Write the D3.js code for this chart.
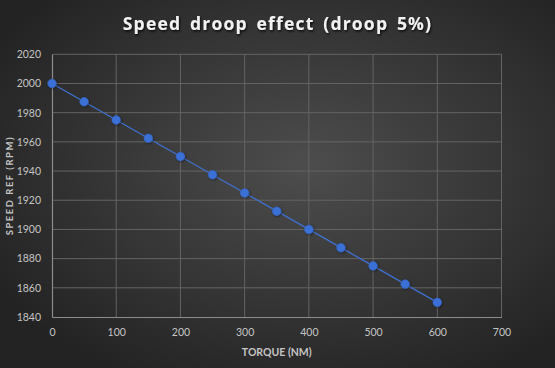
<!DOCTYPE html>
<html><head><meta charset="utf-8">
<script src="https://cdn.jsdelivr.net/npm/d3@7/dist/d3.min.js"></script>
<style>html,body{margin:0;padding:0;background:#2a2a2a;}svg{display:block;}</style>
</head><body>
<script>
const torque = [0,50,100,150,200,250,300,350,400,450,500,550,600];
const speed = [2000,1987.5,1975,1962.5,1950,1937.5,1925,1912.5,1900,1887.5,1875,1862.5,1850];
const xTicks = [0,100,200,300,400,500,600,700];
const yTicks = [1840,1860,1880,1900,1920,1940,1960,1980,2000,2020];
const title = "Speed droop effect (droop 5%)";
const xTitle = "TORQUE (NM)";
const yTitle = "SPEED REF (RPM)";

const W=555,H=368;
const m={l:52,r:501.5,t:54.3,b:317};
const svg=d3.select("body").append("svg").attr("width",W).attr("height",H);
const defs=svg.append("defs");
const rg=defs.append("radialGradient").attr("id","bg").attr("cx","0.55").attr("cy","0.45").attr("r","0.65");
rg.append("stop").attr("offset","0%").attr("stop-color","#4d4d4d");
rg.append("stop").attr("offset","100%").attr("stop-color","#232323");
const f=defs.append("filter").attr("id","sh").attr("x","-10%").attr("y","-30%").attr("width","120%").attr("height","160%");
f.append("feDropShadow").attr("dx",1).attr("dy",1.5).attr("stdDeviation",1.2).attr("flood-color","#000").attr("flood-opacity",0.8);
const f2=defs.append("filter").attr("id","msh").attr("x","-50%").attr("y","-50%").attr("width","200%").attr("height","200%");
f2.append("feDropShadow").attr("dx",0.8).attr("dy",0.8).attr("stdDeviation",0.8).attr("flood-color","#000").attr("flood-opacity",0.5);
svg.append("rect").attr("width",W).attr("height",H).attr("fill","url(#bg)");

const x=d3.scaleLinear().domain([0,700]).range([m.l,m.r]);
const y=d3.scaleLinear().domain([1840,2020]).range([m.b,m.t]);

const grid=svg.append("g");
grid.selectAll("line.h").data(yTicks.slice(1)).join("line")
 .attr("x1",m.l).attr("x2",m.r).attr("y1",d=>y(d)).attr("y2",d=>y(d))
 .attr("stroke","#646464").attr("stroke-width",1);
grid.selectAll("line.v").data(xTicks.slice(1)).join("line")
 .attr("y1",m.t).attr("y2",m.b).attr("x1",d=>x(d)).attr("x2",d=>x(d))
 .attr("stroke","#646464").attr("stroke-width",1);

const xa=svg.append("g").attr("transform",`translate(0,${m.b})`).call(d3.axisBottom(x).tickValues(xTicks).tickSize(0).tickPadding(12));
const ya=svg.append("g").attr("transform",`translate(${m.l},0)`).call(d3.axisLeft(y).tickValues(yTicks).tickSize(0).tickPadding(11).tickFormat(d3.format("d")));
[xa,ya].forEach(a=>{
 a.select(".domain").attr("stroke","#8c8c8c").attr("stroke-width",1.2);
 a.selectAll("text").attr("fill","#c4c4c4").attr("font-family","Lato, 'Open Sans', sans-serif").attr("font-size","10.5px");
});

const line=d3.line().x((d,i)=>x(torque[i])).y(d=>y(d));
svg.append("path").datum(speed).attr("d",line).attr("fill","none").attr("stroke","#3f70cf").attr("stroke-width",1.3);
svg.append("g").attr("filter","url(#msh)").selectAll("circle").data(speed).join("circle")
 .attr("cx",(d,i)=>x(torque[i])).attr("cy",d=>y(d)).attr("r",4.3)
 .attr("fill","#3a6fd6").attr("stroke","#3565c2").attr("stroke-width",0.6);

svg.append("text").attr("x",277.5).attr("y",30).attr("text-anchor","middle")
 .attr("fill","#f2f2f2").attr("font-family","'Open Sans', Lato, sans-serif").attr("font-weight","bold")
 .attr("font-size","17.5px").attr("letter-spacing","1.2px").attr("word-spacing","3px").attr("filter","url(#sh)").text(title);

svg.append("text").attr("x",(m.l+m.r)/2).attr("y",355.5).attr("text-anchor","middle")
 .attr("fill","#c4c4c4").attr("font-family","Lato, 'Open Sans', sans-serif").attr("font-weight","bold")
 .attr("font-size","10.5px").text(xTitle);
svg.append("text").attr("transform",`translate(13,${(m.t+m.b)/2}) rotate(-90)`).attr("text-anchor","middle")
 .attr("fill","#c4c4c4").attr("font-family","Lato, 'Open Sans', sans-serif").attr("font-weight","bold")
 .attr("font-size","9.5px").attr("letter-spacing","1.5px").text(yTitle);
</script>
</body></html>
